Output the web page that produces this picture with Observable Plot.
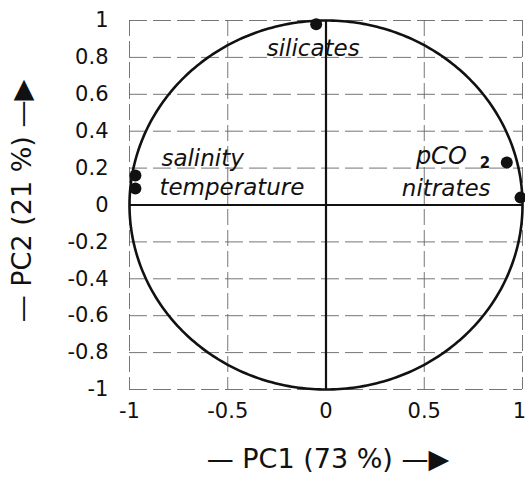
<!DOCTYPE html>
<html><head><meta charset="utf-8">
<script src="https://cdn.jsdelivr.net/npm/d3@7"></script>
<script src="https://cdn.jsdelivr.net/npm/@observablehq/plot@0.6"></script>
<style>body{margin:0;background:#fff}</style>
</head><body><div id="chart"></div>
<script>
const variables = ["silicates", "salinity", "temperature", "pCO2", "nitrates"];
const pc1 = [-0.05, -0.97, -0.97, 0.92, 0.99];
const pc2 = [0.98, 0.16, 0.09, 0.23, 0.04];
const yTicks = [-1, -0.8, -0.6, -0.4, -0.2, 0, 0.2, 0.4, 0.6, 0.8, 1];
const xTicks = [-1, -0.5, 0, 0.5, 1];
const xLabel = "— PC1 (73 %) —▶";
const yLabel = "— PC2 (21 %) —▶";

const pts = variables.map((v, i) => ({name: v, x: pc1[i], y: pc2[i]}));
// unit correlation circle geometry
const circle = d3.range(0, 361).map(a => ({x: Math.cos(a * Math.PI / 180), y: Math.sin(a * Math.PI / 180)}));

const fmt = d => String(+d.toFixed(1));
const lab = (name, text, o) => Plot.text(pts.filter(d => d.name === name), {
  x: "x", y: "y", text: () => text, fontStyle: "italic", fontSize: 23, fill: "#111", ...o
});

const chart = Plot.plot({
  width: 525, height: 479,
  marginLeft: 129, marginRight: 3, marginTop: 20, marginBottom: 90,
  style: {fontFamily: "DejaVu Sans", fontSize: "21px", color: "#111", background: "#fff"},
  x: {domain: [-1, 1], ticks: xTicks, tickFormat: fmt},
  y: {domain: [-1, 1], ticks: yTicks, tickFormat: fmt},
  marks: [
    Plot.gridY(yTicks.filter(t => t !== 0), {stroke: "#666", strokeOpacity: 1, strokeWidth: 0.9, strokeDasharray: "18,6"}),
    Plot.gridX(xTicks.filter(t => t !== 0), {stroke: "#666", strokeOpacity: 1, strokeWidth: 0.9, strokeDasharray: "16,5"}),
    Plot.axisX({ticks: xTicks.slice(0, -1), tickFormat: fmt, tickSize: 0, tickPadding: 14, label: null}),
    Plot.axisX({ticks: xTicks.slice(-1), tickFormat: fmt, tickSize: 0, tickPadding: 14, label: null, dx: -3}),
    Plot.axisY({ticks: yTicks, tickFormat: fmt, tickSize: 0, tickPadding: 21, label: null}),
    Plot.ruleY([0], {stroke: "#111", strokeWidth: 2.2}),
    Plot.ruleX([0], {stroke: "#111", strokeWidth: 2.2}),
    Plot.line(circle, {x: "x", y: "y", stroke: "#111", strokeWidth: 2.6}),
    Plot.dot(pts, {x: "x", y: "y", r: 6, fill: "#111"}),
    lab("silicates", "silicates", {dx: -3, dy: 24}),
    lab("salinity", "salinity", {dx: 26, dy: -17, textAnchor: "start"}),
    lab("temperature", "temperature", {dx: 24, dy: -1, textAnchor: "start"}),
    lab("pCO2", "pCO", {dx: -40, dy: -6, textAnchor: "end", fontSize: 24}),
    lab("pCO2", "2", {dx: -27, dy: 1, textAnchor: "start", fontStyle: "normal", fontWeight: "bold", fontSize: 15}),
    lab("nitrates", "nitrates", {dx: -30, dy: -9, textAnchor: "end"}),
    Plot.text([xLabel], {frameAnchor: "bottom", textAnchor: "middle", text: d => d, dy: 78, dx: 2, fontSize: 27, fill: "#111"}),
    Plot.text([yLabel], {frameAnchor: "left", textAnchor: "middle", text: d => d, rotate: -90, dx: -107, dy: -4, fontSize: 27, fill: "#111"})
  ]
});
document.getElementById("chart").append(chart);
</script>
</body></html>
